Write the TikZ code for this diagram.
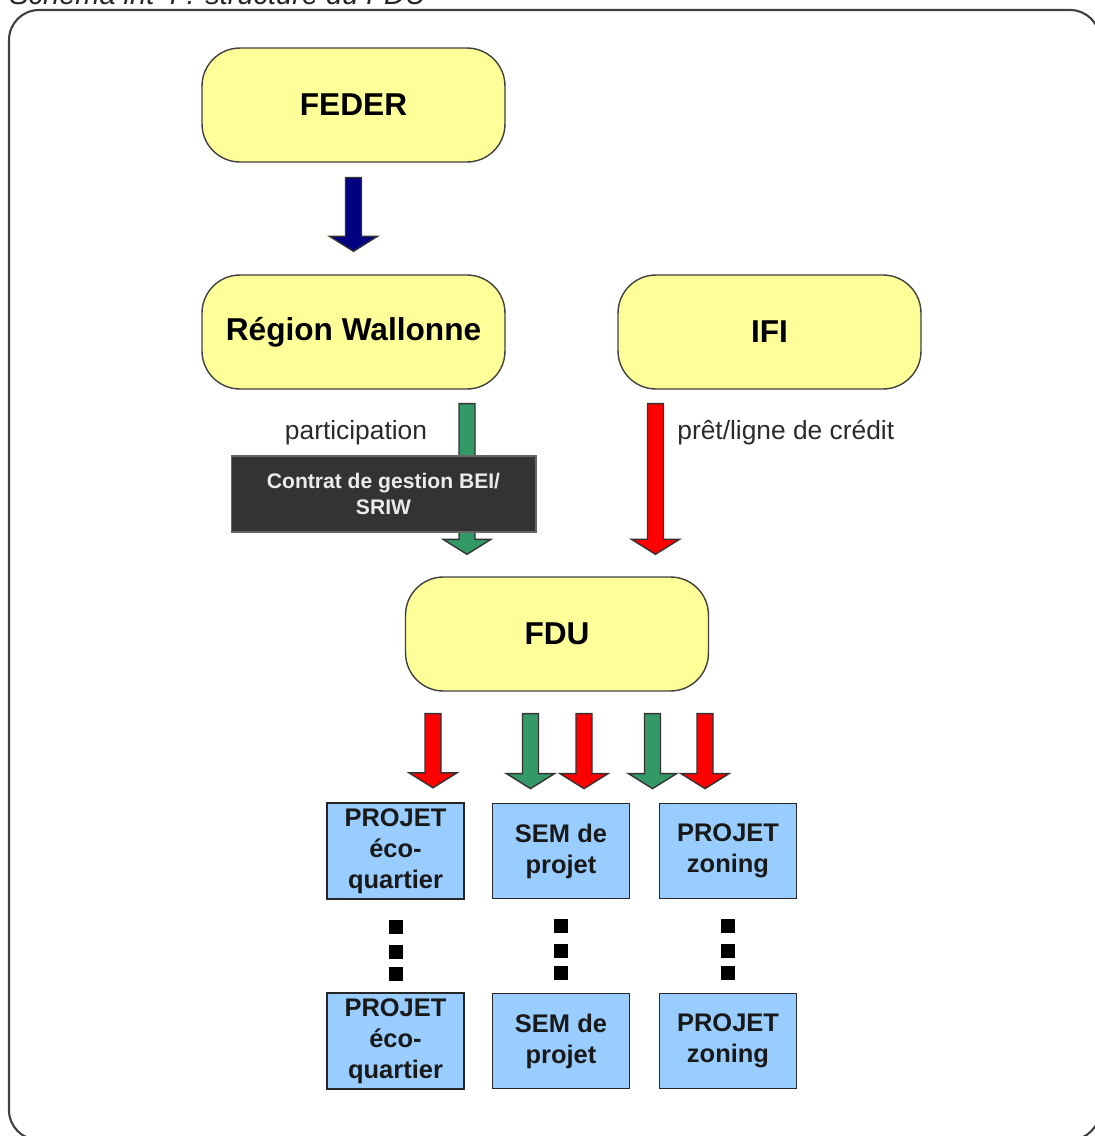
\documentclass[tikz,border=0pt]{standalone}
\usepackage{fontspec}
\setmainfont{Liberation Sans}
\usetikzlibrary{calc}

\definecolor{boxyellow}{HTML}{FFFF99}
\definecolor{boxblue}{HTML}{99CCFF}
\definecolor{arrowgreen}{HTML}{339966}
\definecolor{arrowred}{HTML}{FF0000}
\definecolor{arrownavy}{HTML}{000080}
\definecolor{contratgray}{HTML}{333333}
\definecolor{framegray}{HTML}{404040}
\definecolor{labelgray}{HTML}{2A2A2A}

% block arrow: colour, top point, tip point
\newcommand{\blockarrow}[3]{%
  \path #2 coordinate (ba-top) #3 coordinate (ba-tip);
  \draw[blockline, fill=#1] ($(ba-top)+(-8,0)$) -- ($(ba-top)+(8,0)$)
    -- ($(ba-tip)+(8,-15)$) -- ($(ba-tip)+(24,-15)$) -- (ba-tip)
    -- ($(ba-tip)+(-24,-15)$) -- ($(ba-tip)+(-8,-15)$) -- cycle;
}

\begin{document}
\begin{tikzpicture}[x=0.02cm,y=-0.02cm]

\tikzstyle{actor}=[draw=black!75, line width=0.8pt, fill=boxyellow, rounded corners=0.76cm,
  minimum width=6.06cm, minimum height=2.28cm, font=\fontsize{18}{21}\selectfont\bfseries]
\tikzstyle{projet}=[draw=black!85, line width=1pt, fill=boxblue, minimum width=2.74cm,
  minimum height=1.9cm, align=center, font=\fontsize{14.5}{17.6}\selectfont\bfseries, text=black!90]
\tikzstyle{blockline}=[draw=black!80, line width=0.8pt, line join=miter]
\tikzstyle{flowlabel}=[font=\fontsize{15}{18}\selectfont, text=labelgray]

\useasboundingbox (0,0) rectangle (1095,1136);

% caption, cut at the top
\node[anchor=base west, inner sep=0pt, font=\fontsize{16.5}{20}\selectfont\itshape, text=black!85]
  (caption) at (9,4) {Schéma int 4 : structure du FDU};

% frame
\draw[framegray, line width=1.2pt, rounded corners=0.6cm] (9,10) rectangle (1100,1140);

% actors
\node[actor] (feder) at (353.5,105) {FEDER};
\node[actor] (region) at (353.5,332) {Région Wallonne};
\node[actor] (ifi) at (769.5,332) {IFI};
\node[actor] (fdu) at (557,634) {FDU};

% projects
\node[projet] (p1a) at (395.5,851) {PROJET\\éco-\\quartier};
\node[projet] (p2a) at (561,851) {SEM de\\projet};
\node[projet] (p3a) at (728,851) {PROJET\\zoning};
\node[projet] (p1b) at (395.5,1041) {PROJET\\éco-\\quartier};
\node[projet] (p2b) at (561,1041) {SEM de\\projet};
\node[projet] (p3b) at (728,1041) {PROJET\\zoning};

% dots between the rows
\foreach \col in {p1a,p2a,p3a}
  \foreach \dy in {27,52,74}
    \fill[black] ($(\col.south)+(-7,\dy-7)$) rectangle ++(14,14);

% flows
\blockarrow{arrownavy}{($(feder.south)+(0,15)$)}{($(region.north)+(0,-23)$)}
\blockarrow{arrowgreen}{($(region.south)+(113.5,14)$)}{($(fdu.north)+(-90,-22)$)}
\blockarrow{arrowred}{($(ifi.south)+(-114,14)$)}{($(fdu.north)+(98.5,-22)$)}

\node[fill=contratgray, draw=black!60, line width=0.6pt, minimum width=6.1cm, minimum height=1.52cm,
  align=center, text=white!92!black, font=\fontsize{12}{14.5}\selectfont\bfseries]
  (contrat) at (383.5,494) {Contrat de gestion BEI/\\SRIW};

\node[flowlabel] (lparticip) at (356,433) {participation};
\node[flowlabel, anchor=west, inner sep=0pt] (lpret) at (677,433) {prêt/ligne de crédit};

\blockarrow{arrowred}{($(fdu.south)+(-124,22)$)}{($(p1a.north)+(37.5,-14)$)}
\blockarrow{arrowgreen}{($(fdu.south)+(-26.5,22)$)}{($(p2a.north)+(-30.5,-14)$)}
\blockarrow{arrowred}{($(fdu.south)+(27,22)$)}{($(p2a.north)+(23,-14)$)}
\blockarrow{arrowgreen}{($(fdu.south)+(95.5,22)$)}{($(p3a.north)+(-75.5,-14)$)}
\blockarrow{arrowred}{($(fdu.south)+(148,22)$)}{($(p3a.north)+(-23,-14)$)}

\end{tikzpicture}
\end{document}
